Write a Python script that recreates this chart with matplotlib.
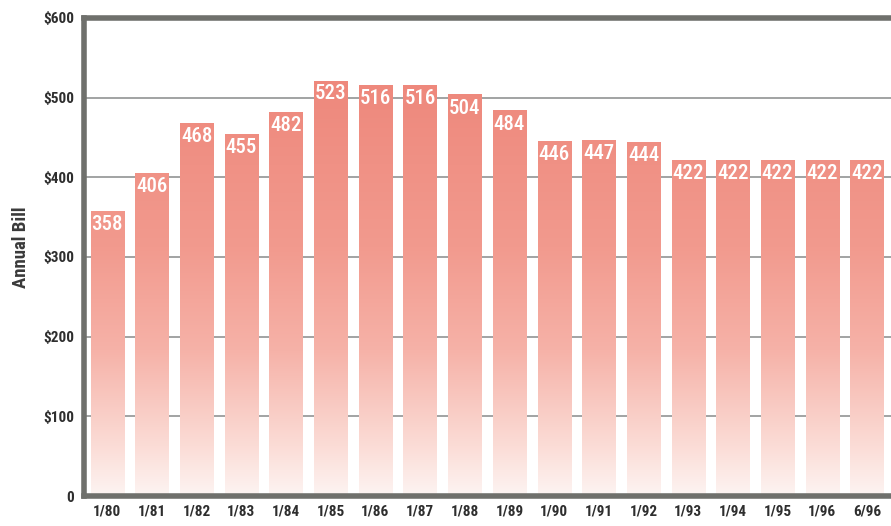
import matplotlib
matplotlib.use("Agg")
import matplotlib.pyplot as plt
import numpy as np
from matplotlib.colors import LinearSegmentedColormap

periods = ["1/80", "1/81", "1/82", "1/83", "1/84", "1/85", "1/86", "1/87", "1/88",
           "1/89", "1/90", "1/91", "1/92", "1/93", "1/94", "1/95", "1/96", "6/96"]
bills = [358, 406, 468, 455, 482, 523, 516, 516, 504,
         484, 446, 447, 444, 422, 422, 422, 422, 422]
y_ticks = [0, 100, 200, 300, 400, 500, 600]
y_labels = ["0", "$100", "$200", "$300", "$400", "$500", "$600"]

plt.rcParams["font.family"] = ["Roboto Condensed", "Liberation Sans Narrow",
                               "Roboto", "DejaVu Sans"]

fig = plt.figure(figsize=(8.91, 5.26), dpi=100)
ax = fig.add_axes([84 / 891, 1 - 496 / 526, 1 - 84 / 891, (496 - 18) / 526])

x = np.arange(len(bills))
bars = ax.bar(x, bills, width=0.74, color="none", edgecolor="none", zorder=2)

# vertical salmon-to-white fade, shared by all bars
cmap = LinearSegmentedColormap.from_list(
    "fade", [(0.0, "#fdf4f2"), (0.12, "#fbdcd6"), (0.35, "#f6b2a8"),
             (0.6, "#f29a8e"), (1.0, "#ee887c")])
grad = np.linspace(0, 1, 256).reshape(-1, 1)
for b in bars:
    im = ax.imshow(grad, cmap=cmap, origin="lower", aspect="auto",
                   extent=[b.get_x(), b.get_x() + b.get_width(), 0, 520],
                   zorder=2, interpolation="bicubic")
    im.set_clip_path(b)

for xi, v in zip(x, bills):
    ax.annotate(str(v), (xi, v), xytext=(0, -3), textcoords="offset points",
                ha="center", va="top", color="white", fontsize=15,
                fontweight="medium", zorder=4)

ax.set_xlim(-0.52, 17.54)
ax.set_ylim(0, 600)
ax.set_yticks(y_ticks)
ax.set_yticklabels(y_labels)
ax.set_xticks(x)
ax.set_xticklabels(periods)
ax.tick_params(axis="both", length=0, labelsize=11, colors="#2e2e2e")
for lbl in ax.get_xticklabels() + ax.get_yticklabels():
    lbl.set_fontweight("bold")
ax.tick_params(axis="y", pad=7)
ax.tick_params(axis="x", pad=6)

for yv in y_ticks[1:-1]:
    ax.axhline(yv, color="#9a9c9c", lw=1.3, zorder=1)

for side in ["top", "left", "bottom"]:
    ax.spines[side].set_color("#6f706c")
    ax.spines[side].set_linewidth(4)
ax.spines["right"].set_visible(False)

ax.set_ylabel("Annual Bill", fontsize=13.5, fontweight="bold", color="#3a3a3a")
ax.yaxis.set_label_coords(-54 / 807, 0.52)

fig.savefig("out.png", dpi=100)
